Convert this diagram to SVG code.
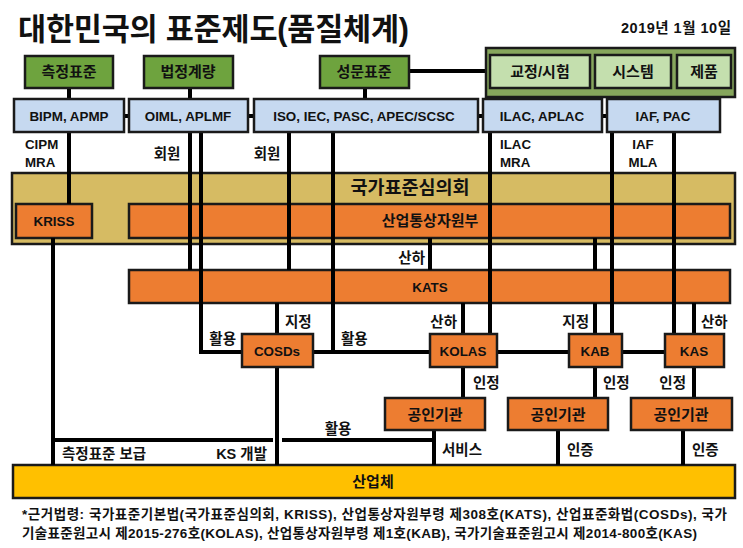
<svg xmlns="http://www.w3.org/2000/svg" width="743" height="548" viewBox="0 0 743 548">
<style>
text{font-family:"Liberation Sans","Noto Sans CJK KR",sans-serif;font-weight:bold;fill:#111}
.b{stroke:#1a1a1a;stroke-width:2.5}
.g{fill:#6ea33e}
.lg{fill:#c4dfae}
.og{fill:#86a65c}
.bl{fill:#c6d9f0}
.au{fill:#d6bb63}
.or{fill:#ed7d31}
.ye{fill:#ffc000}
.t{font-size:15px;text-anchor:middle}
.t.la{font-size:13.4px}
.s{font-size:14.5px}
.s .la{font-size:13.3px}
.m{text-anchor:middle}
.e{text-anchor:end}
#conn line,#conn polyline{stroke:#000;stroke-width:4;fill:none}
</style>
<rect width="743" height="548" fill="#fff"/>
<text x="18" y="40" font-size="30.5" textLength="391">대한민국의 표준제도(품질체계)</text>
<text x="731" y="33" font-size="14.5" class="e" textLength="110">2019년 1월 10일</text>

<g id="council"><rect class="b au" x="12" y="173" width="723" height="71"/><text x="410" y="194" font-size="18.5" class="m">국가표준심의회</text></g>
<g id="motie"><rect class="b or" x="129" y="204" width="601" height="34"/><text class="t" x="430" y="226">산업통상자원부</text></g>
<g id="kriss"><rect class="b or" x="16" y="204" width="76" height="34"/><text class="t la" x="54" y="226">KRISS</text></g>
<g id="kats"><rect class="b or" x="129" y="270" width="601" height="33"/><text class="t la" x="430" y="292">KATS</text></g>
<g id="industry"><rect class="b ye" x="13" y="465" width="722" height="33"/><text class="t" x="373" y="487">산업체</text></g>

<g id="conn">
<line x1="69" y1="88" x2="69" y2="99"/>
<line x1="190" y1="88" x2="190" y2="99"/>
<line x1="365" y1="88" x2="365" y2="99"/>
<line x1="409" y1="71" x2="486" y2="71"/>
<line x1="540" y1="96" x2="540" y2="99"/>
<line x1="664" y1="96" x2="664" y2="99"/>
<line x1="123" y1="116" x2="130" y2="116"/>
<line x1="247" y1="116" x2="255" y2="116"/>
<line x1="477" y1="116" x2="484" y2="116"/>
<line x1="601" y1="116" x2="608" y2="116"/>
<line x1="69" y1="132" x2="69" y2="204"/>
<line x1="190" y1="132" x2="190" y2="270"/>
<polyline points="201,132 201,352 242,352"/>
<line x1="289" y1="132" x2="289" y2="270"/>
<line x1="333" y1="132" x2="333" y2="352"/>
<line x1="490" y1="132" x2="490" y2="334"/>
<line x1="612" y1="132" x2="612" y2="334"/>
<line x1="674" y1="132" x2="674" y2="334"/>
<line x1="430" y1="238" x2="430" y2="270"/>
<line x1="595" y1="238" x2="595" y2="270"/>
<line x1="277" y1="303" x2="277" y2="334"/>
<line x1="463" y1="303" x2="463" y2="334"/>
<line x1="595" y1="303" x2="595" y2="334"/>
<line x1="694" y1="303" x2="694" y2="334"/>
<line x1="313" y1="352" x2="430" y2="352"/>
<line x1="497" y1="352" x2="569" y2="352"/>
<line x1="622" y1="352" x2="665" y2="352"/>
<line x1="463" y1="367" x2="463" y2="398"/>
<line x1="595" y1="367" x2="595" y2="398"/>
<line x1="694" y1="367" x2="694" y2="398"/>
<line x1="434" y1="430" x2="434" y2="465"/>
<line x1="558" y1="430" x2="558" y2="465"/>
<line x1="683" y1="430" x2="683" y2="465"/>
<line x1="53" y1="238" x2="53" y2="465"/>
<line x1="277" y1="367" x2="277" y2="465"/>
<line x1="53" y1="440" x2="273" y2="440"/>
<line x1="282" y1="440" x2="436" y2="440"/>
</g>

<g id="measure"><rect class="b g" x="25" y="56" width="88" height="32"/><text class="t" x="69" y="77">측정표준</text></g>
<g id="legal"><rect class="b g" x="144" y="56" width="89" height="32"/><text class="t" x="188" y="77">법정계량</text></g>
<g id="docstd"><rect class="b g" x="320" y="56" width="89" height="32"/><text class="t" x="364" y="77">성문표준</text></g>
<g id="conformity">
<rect class="b og" x="486" y="48" width="249" height="49"/>
<rect class="b lg" x="490" y="55" width="100" height="33"/><text class="t" x="540" y="77">교정/시험</text>
<rect class="b lg" x="595" y="55" width="76" height="33"/><text class="t" x="633" y="77">시스템</text>
<rect class="b lg" x="677" y="55" width="54" height="33"/><text class="t" x="704" y="77">제품</text>
</g>
<g id="bipm"><rect class="b bl" x="14" y="99" width="110" height="33"/><text class="t la" x="69" y="121">BIPM, APMP</text></g>
<g id="oiml"><rect class="b bl" x="129" y="99" width="119" height="33"/><text class="t la" x="188" y="121">OIML, APLMF</text></g>
<g id="iso"><rect class="b bl" x="254" y="99" width="224" height="33"/><text class="t la" x="364" y="121">ISO, IEC, PASC, APEC/SCSC</text></g>
<g id="ilac"><rect class="b bl" x="483" y="99" width="119" height="33"/><text class="t la" x="542" y="121">ILAC, APLAC</text></g>
<g id="iaf"><rect class="b bl" x="607" y="99" width="113" height="33"/><text class="t la" x="663" y="121">IAF, PAC</text></g>
<g id="cosds"><rect class="b or" x="242" y="334" width="71" height="33"/><text class="t la" x="277" y="356">COSDs</text></g>
<g id="kolas"><rect class="b or" x="430" y="334" width="67" height="33"/><text class="t la" x="463" y="356">KOLAS</text></g>
<g id="kab"><rect class="b or" x="569" y="334" width="53" height="33"/><text class="t la" x="595" y="356">KAB</text></g>
<g id="kas"><rect class="b or" x="665" y="334" width="59" height="33"/><text class="t la" x="694" y="356">KAS</text></g>
<g id="body1"><rect class="b or" x="385" y="398" width="100" height="32"/><text class="t" x="435" y="420">공인기관</text></g>
<g id="body2"><rect class="b or" x="508" y="398" width="100" height="32"/><text class="t" x="558" y="420">공인기관</text></g>
<g id="body3"><rect class="b or" x="631" y="398" width="101" height="32"/><text class="t" x="681" y="420">공인기관</text></g>

<g id="labels" class="s">
<text x="25" y="149" class="la">CIPM</text><text x="25" y="167" class="la">MRA</text>
<text x="167" y="159" class="m">회원</text>
<text x="267" y="159" class="m">회원</text>
<text x="500" y="149" class="la">ILAC</text><text x="500" y="167" class="la">MRA</text>
<text x="643" y="149" class="m la">IAF</text><text x="643" y="167" class="m la">MLA</text>
<text x="425" y="263" class="e">산하</text>
<text x="285" y="327">지정</text>
<text x="457" y="327" class="e">산하</text>
<text x="589" y="327" class="e">지정</text>
<text x="701" y="327">산하</text>
<text x="236" y="344" class="e">활용</text>
<text x="341" y="344">활용</text>
<text x="473" y="388">인정</text>
<text x="603" y="388">인정</text>
<text x="686" y="388" class="e">인정</text>
<text x="338" y="434" class="m">활용</text>
<text x="62" y="459">측정표준 보급</text>
<text x="267" y="459" class="e">KS 개발</text>
<text x="442" y="455">서비스</text>
<text x="567" y="455">인증</text>
<text x="692" y="455">인증</text>
</g>
<g id="note" font-size="13.5">
<text x="22" y="519" textLength="705">*근거법령: 국가표준기본법(국가표준심의회, KRISS), 산업통상자원부령 제308호(KATS), 산업표준화법(COSDs), 국가</text>
<text x="22" y="538" textLength="675">기술표준원고시 제2015-276호(KOLAS), 산업통상자원부령 제1호(KAB), 국가기술표준원고시 제2014-800호(KAS)</text>
</g>
</svg>
